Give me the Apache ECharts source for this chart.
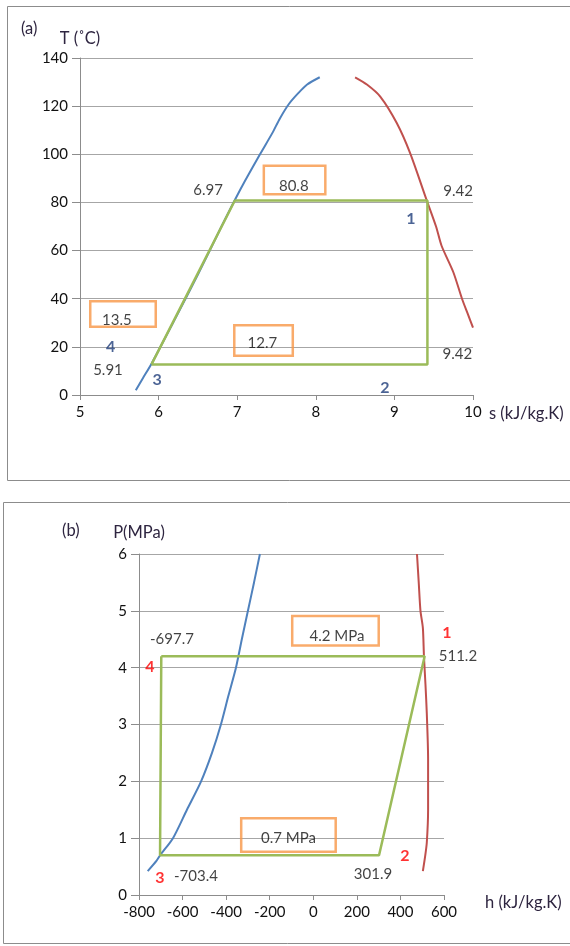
<!DOCTYPE html>
<html><head><meta charset="utf-8">
<script src="https://cdn.jsdelivr.net/npm/echarts@6/dist/echarts.min.js"></script>
<style>html,body{margin:0;padding:0;background:#fff}#c{width:570px;height:946px}</style>
</head><body><div id="c"></div>
<script>
// ---------- Chart (a): T-s ----------
const blueS_A = [5.71, 5.80, 5.91, 6.20, 6.50, 6.80, 6.97, 7.10, 7.29, 7.45, 7.545, 7.66, 7.78, 7.89, 8.05];
const blueT_A = [2, 7, 13, 31, 50, 70, 81, 89, 100, 109, 115, 121, 125.5, 129, 132];
const redS_A  = [8.50, 8.65, 8.82, 9.03, 9.20, 9.41, 9.53, 9.60, 9.75, 9.86, 9.93, 10.0];
const redT_A  = [132, 129, 124, 113, 100.5, 81, 70, 62, 51, 40, 34, 28];
const cycleS_A = [5.91, 6.97, 9.42, 9.42, 5.91];
const cycleT_A = [12.7, 80.8, 80.8, 12.7, 12.7];
// annotations: [s, T, text, kind]
const annA = [
  [6.63, 85.2, '6.97', 'txt'],
  [9.81, 84.8, '9.42', 'txt'],
  [9.80, 17.0, '9.42', 'txt'],
  [5.356, 10.4, '5.91', 'txt'],
  [7.72, 86.8, '80.8', 'txt'],
  [5.47, 31.2, '13.5', 'txt'],
  [7.32, 21.6, '12.7', 'txt'],
  [9.21, 73.1, '1', 'numA'],
  [8.88, 2.9, '2', 'numA'],
  [5.98, 6.2, '3', 'numA'],
  [5.39, 19.9, '4', 'numA']
];
// orange boxes: [s, T, key]
const boxA = [
  [7.73, 89.3, 'b808'],
  [5.547, 33.7, 'b135'],
  [7.335, 22.6, 'b127']
];

// ---------- Chart (b): P-h ----------
const blueH_B = [-760, -720, -703, -644, -580, -515, -465, -424, -390, -355, -328, -300, -272, -245];
const blueP_B = [0.42, 0.60, 0.70, 1.0, 1.5, 2.0, 2.5, 3.0, 3.5, 4.0, 4.5, 5.0, 5.5, 6.0];
const redH_B  = [503, 513, 521, 527, 527, 521, 515, 508, 503, 492, 484, 476];
const redP_B  = [0.42, 0.67, 0.92, 1.5, 2.4, 3.2, 3.7, 4.2, 4.7, 5.0, 5.5, 6.0];
const cycleH_B = [-697.7, 511.2, 301.9, -703.4, -697.7];
const cycleP_B = [4.2, 4.2, 0.7, 0.7, 4.2];
const annB = [
  [-648.6, 4.51, '-697.7', 'txt'],
  [664, 4.21, '511.2', 'txt'],
  [274, 0.37, '301.9', 'txt'],
  [-538.4, 0.335, '-703.4', 'txt'],
  [109, 4.55, '4.2 MPa', 'txt'],
  [-114, 1.0, '0.7 MPa', 'txt'],
  [613.5, 4.61, '1', 'numB'],
  [420.7, 0.687, '2', 'numB'],
  [-703.6, 0.30, '3', 'numB'],
  [-749.5, 4.01, '4', 'numB']
];
const boxB = [
  [101.8, 4.65, 'b42'],
  [-114, 1.056, 'b07']
];

// box sizes (px)
const boxSize = {b808: [64, 31], b135: [68, 28], b127: [61, 33], b42: [89, 32], b07: [97, 36]};

const FONT = 'Lato';
const FS = 15;
const NFS = 16.5;
const TXT = '#111';
const zip = (a, b) => a.map((v, i) => [v, b[i]]);

function annSeries(list, xi, yi) {
  const styles = {
    txt: {color: TXT, fontSize: FS, fontWeight: 'normal'},
    numA: {color: '#1f3d7a', fontSize: 16, fontWeight: 'bold'},
    numB: {color: '#ff0000', fontSize: 16, fontWeight: 'bold'}
  };
  return {
    type: 'scatter', xAxisIndex: xi, yAxisIndex: yi, symbolSize: 0, silent: true, z: 11, clip: false,
    data: list.map(a => ({
      value: [a[0], a[1]],
      label: Object.assign({show: true, position: 'inside', formatter: a[2], fontFamily: FONT}, styles[a[3]])
    }))
  };
}
function boxSeries(list, xi, yi) {
  return {
    type: 'scatter', xAxisIndex: xi, yAxisIndex: yi, symbolSize: 0, silent: true, z: 10, clip: false,
    data: list.map(b => {
      const s = boxSize[b[2]];
      return {
        value: [b[0], b[1]],
        label: {
          show: true, position: 'inside', formatter: ' ', fontSize: 10,
          width: s[0] - 2.5, height: s[1] - 2.5, padding: 0,
          borderColor: '#f79646', borderWidth: 2.5
        }
      };
    })
  };
}
function lineSeries(data, color, width, xi, yi, z) {
  return {type: 'line', data, xAxisIndex: xi, yAxisIndex: yi, showSymbol: false, symbol: 'none',
    smooth: 0.25, lineStyle: {color, width}, z, silent: true, animation: false};
}

const axisLineC = {show: true, onZero: false, lineStyle: {color: '#8c8c8c', width: 1}};
const labelC = {color: TXT, fontFamily: FONT, fontSize: FS};
const nameFont = NFS + 'px "' + FONT + '"';

const chart = echarts.init(document.getElementById('c'), null, {renderer: 'canvas'});
chart.setOption({
  animation: false,
  backgroundColor: '#fff',
  grid: [
    {left: 80, top: 58, width: 393, height: 337},
    {left: 139, top: 554, width: 305, height: 341}
  ],
  xAxis: [
    {type: 'value', gridIndex: 0, min: 5, max: 10, interval: 1,
      axisLine: axisLineC, axisTick: {show: true, length: 5, lineStyle: {color: '#8c8c8c'}},
      axisLabel: Object.assign({margin: 10}, labelC), splitLine: {show: false}},
    {type: 'value', gridIndex: 1, min: -800, max: 600, interval: 200,
      axisLine: axisLineC, axisTick: {show: true, length: 5, lineStyle: {color: '#8c8c8c'}},
      axisLabel: Object.assign({margin: 10}, labelC), splitLine: {show: false}}
  ],
  yAxis: [
    {type: 'value', gridIndex: 0, min: 0, max: 140, interval: 20,
      name: 'T (˚C)', nameLocation: 'end', nameGap: 11,
      nameTextStyle: {color: '#2e2540', fontFamily: FONT, fontSize: NFS, align: 'center'},
      axisLine: axisLineC, axisTick: {show: true, length: 8, lineStyle: {color: '#8c8c8c'}},
      axisLabel: Object.assign({margin: 12}, labelC),
      splitLine: {show: true, lineStyle: {color: '#a6a6a6', width: 1}}},
    {type: 'value', gridIndex: 1, min: 0, max: 6, interval: 1,
      name: 'P(MPa)', nameLocation: 'end', nameGap: 13,
      nameTextStyle: {color: '#2e2540', fontFamily: FONT, fontSize: NFS, align: 'center'},
      axisLine: axisLineC, axisTick: {show: true, length: 8, lineStyle: {color: '#8c8c8c'}},
      axisLabel: Object.assign({margin: 12}, labelC),
      splitLine: {show: true, lineStyle: {color: '#a6a6a6', width: 1}}}
  ],
  graphic: [
    {type: 'rect', shape: {x: 7.5, y: 6.5, width: 580, height: 474}, style: {fill: 'none', stroke: '#8c8c8c', lineWidth: 1}, silent: true, z: -1},
    {type: 'rect', shape: {x: 3.5, y: 502.5, width: 580, height: 441}, style: {fill: 'none', stroke: '#8c8c8c', lineWidth: 1}, silent: true, z: -1},
    {type: 'text', left: 21, top: 20, style: {text: '(a)', fill: '#2e2540', font: nameFont}},
    {type: 'text', left: 62, top: 522, style: {text: '(b)', fill: '#2e2540', font: nameFont}},
    {type: 'text', left: 489, top: 405, style: {text: 's (kJ/kg.K)', fill: '#2e2540', font: nameFont}},
    {type: 'text', left: 485, top: 894, style: {text: 'h (kJ/kg.K)', fill: '#2e2540', font: nameFont}}
  ],
  series: [
    lineSeries(zip(blueS_A, blueT_A), '#4f81bd', 2, 0, 0, 2),
    lineSeries(zip(redS_A, redT_A), '#c0504d', 2, 0, 0, 2),
    Object.assign(lineSeries(zip(cycleS_A, cycleT_A), '#9bbb59', 2.5, 0, 0, 3), {smooth: false}),
    boxSeries(boxA, 0, 0),
    annSeries(annA, 0, 0),
    lineSeries(zip(blueH_B, blueP_B), '#4f81bd', 2, 1, 1, 2),
    lineSeries(zip(redH_B, redP_B), '#c0504d', 2, 1, 1, 2),
    Object.assign(lineSeries(zip(cycleH_B, cycleP_B), '#9bbb59', 2.5, 1, 1, 3), {smooth: false}),
    boxSeries(boxB, 1, 1),
    annSeries(annB, 1, 1)
  ]
});
</script></body></html>
